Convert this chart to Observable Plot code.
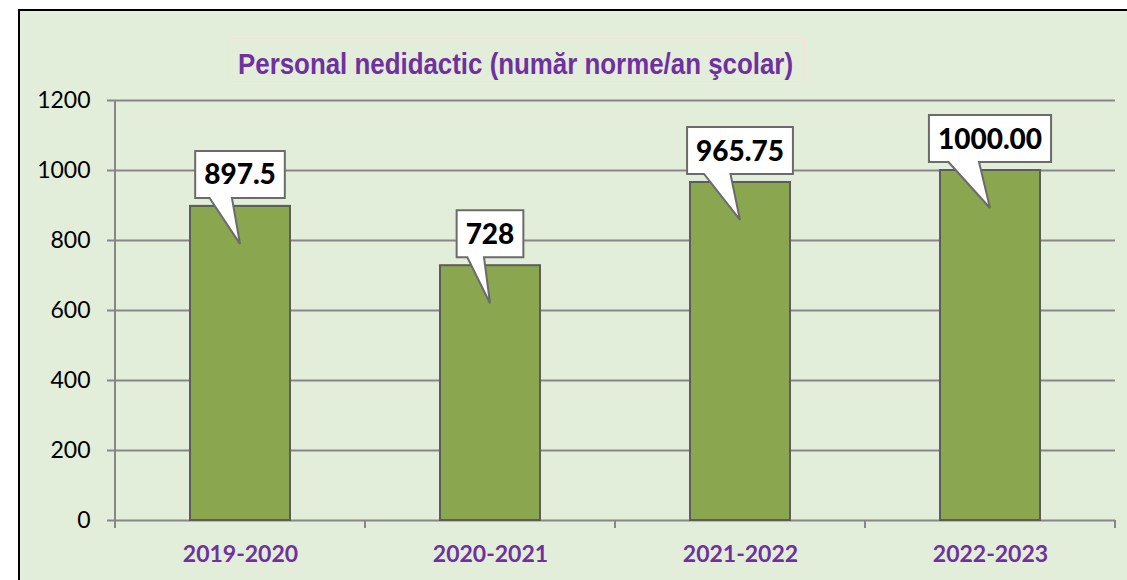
<!DOCTYPE html>
<html>
<head>
<meta charset="utf-8">
<script src="https://cdn.jsdelivr.net/npm/d3@7"></script>
<script src="https://cdn.jsdelivr.net/npm/@observablehq/plot@0.6"></script>
<style>
  html, body { margin: 0; padding: 0; background: #ffffff; }
  body { width: 1127px; height: 580px; position: relative; overflow: hidden; }
  #panel { position: absolute; left: 18px; top: 9px; width: 1200px; height: 700px;
           background: #e2eed9; border-left: 2.5px solid #000; border-top: 2.5px solid #000; }
  #chart { position: absolute; left: 0; top: 0; }
  #title { position: absolute; left: 227px; top: 38px; width: 578px; height: 44px;
           border: 1.5px solid #f3e1da; box-sizing: border-box; }
  #title svg { position: absolute; left: 0; top: 0; overflow: visible; }
</style>
</head>
<body>
<div id="panel"></div>
<div id="chart"></div>
<div id="title"></div>
<script>
const titleText = "Personal nedidactic (număr norme/an şcolar)";
const years = ["2019-2020", "2020-2021", "2021-2022", "2022-2023"];
const values = [897.5, 728, 965.75, 1000];
const valueLabels = ["897.5", "728", "965.75", "1000.00"];
const yTicks = [0, 200, 400, 600, 800, 1000, 1200];

const data = years.map((year, i) => ({year, value: values[i], label: valueLabels[i]}));

const gridColor = "#878787";
const labelFont = "900 28px Lato";
const ctx = document.createElement("canvas").getContext("2d");

function bw(x) { return typeof x.bandwidth === "function" ? x.bandwidth() : x.bandwidth; }

// axis line + category boundary ticks
function decorations(index, scales, values, dims) {
  const g = d3.create("svg:g");
  const n = years.length;
  const left = dims.marginLeft, right = dims.width - dims.marginRight;
  const y0 = scales.y(0), yTop = scales.y(yTicks[yTicks.length - 1]);
  g.append("line").attr("x1", left).attr("x2", left).attr("y1", yTop).attr("y2", y0)
    .attr("stroke", gridColor).attr("stroke-width", 2);
  for (let i = 0; i <= n; i++) {
    const xx = left + i * (right - left) / n;
    g.append("line").attr("x1", xx).attr("x2", xx).attr("y1", y0).attr("y2", y0 + 8)
      .attr("stroke", gridColor).attr("stroke-width", 2);
  }
  return g.node();
}

// callout labels
function callouts(index, scales, values, dims) {
  const g = d3.create("svg:g");
  ctx.font = labelFont;
  for (const d of data) {
    const cx = scales.x(d.year) + bw(scales.x) / 2;
    const yv = scales.y(d.value);
    const tw = ctx.measureText(d.label).width;
    const w = Math.max(tw + 18, 64), h = 47;
    const x0 = cx - w / 2, x1 = cx + w / 2;
    const yb = yv - 8, yt = yb - h;
    const tipY = yv + 38;
    const wl = x0 + 0.16 * w, wr = x0 + 0.41 * w;
    const p = `M${x0},${yt}L${x1},${yt}L${x1},${yb}L${wr},${yb}L${cx},${tipY}L${wl},${yb}L${x0},${yb}Z`;
    g.append("path").attr("d", p).attr("fill", "#fff").attr("stroke", "#6b6b6b")
      .attr("stroke-width", 2).attr("stroke-linejoin", "miter");
    g.append("text").attr("x", cx).attr("y", (yt + yb) / 2).attr("dy", "0.36em")
      .attr("text-anchor", "middle").style("font", labelFont).attr("fill", "#000")
      .text(d.label);
  }
  return g.node();
}

const plot = Plot.plot({
  width: 1127,
  height: 580,
  marginLeft: 115,
  marginRight: 12,
  marginTop: 100,
  marginBottom: 60,
  style: {background: "transparent", color: "#000", overflow: "visible"},
  x: {domain: years, paddingInner: 0.6, paddingOuter: 0.3, label: null},
  y: {domain: [0, 1200], label: null},
  marks: [
    Plot.ruleY(yTicks, {stroke: gridColor, strokeWidth: 2}),
    Plot.axisY({ticks: yTicks, tickSize: 8, tickPadding: 17, stroke: gridColor, strokeWidth: 2,
      fill: "#000", fontSize: 23, fontFamily: "Lato", tickFormat: d => String(d), label: null}),
    Plot.axisX({tickSize: 0, tickPadding: 25, fill: "#7030a0", fontSize: 23, fontWeight: "bold",
      fontFamily: "Lato", label: null}),
    Plot.barY(data, {x: "year", y: "value", fill: "#8aa64f", stroke: "#5c5c5c", strokeWidth: 2}),
    decorations,
    callouts
  ]
});
document.getElementById("chart").appendChild(plot);

// title
const ts = d3.select("#title").append("svg").attr("width", 578).attr("height", 44);
ts.append("text").attr("x", 10).attr("y", 35)
  .attr("textLength", 555).attr("lengthAdjust", "spacingAndGlyphs")
  .style("font", "bold 29px 'Liberation Sans Narrow', 'Liberation Sans', Arial, sans-serif")
  .attr("fill", "#7030a0").text(titleText);
</script>
</body>
</html>
